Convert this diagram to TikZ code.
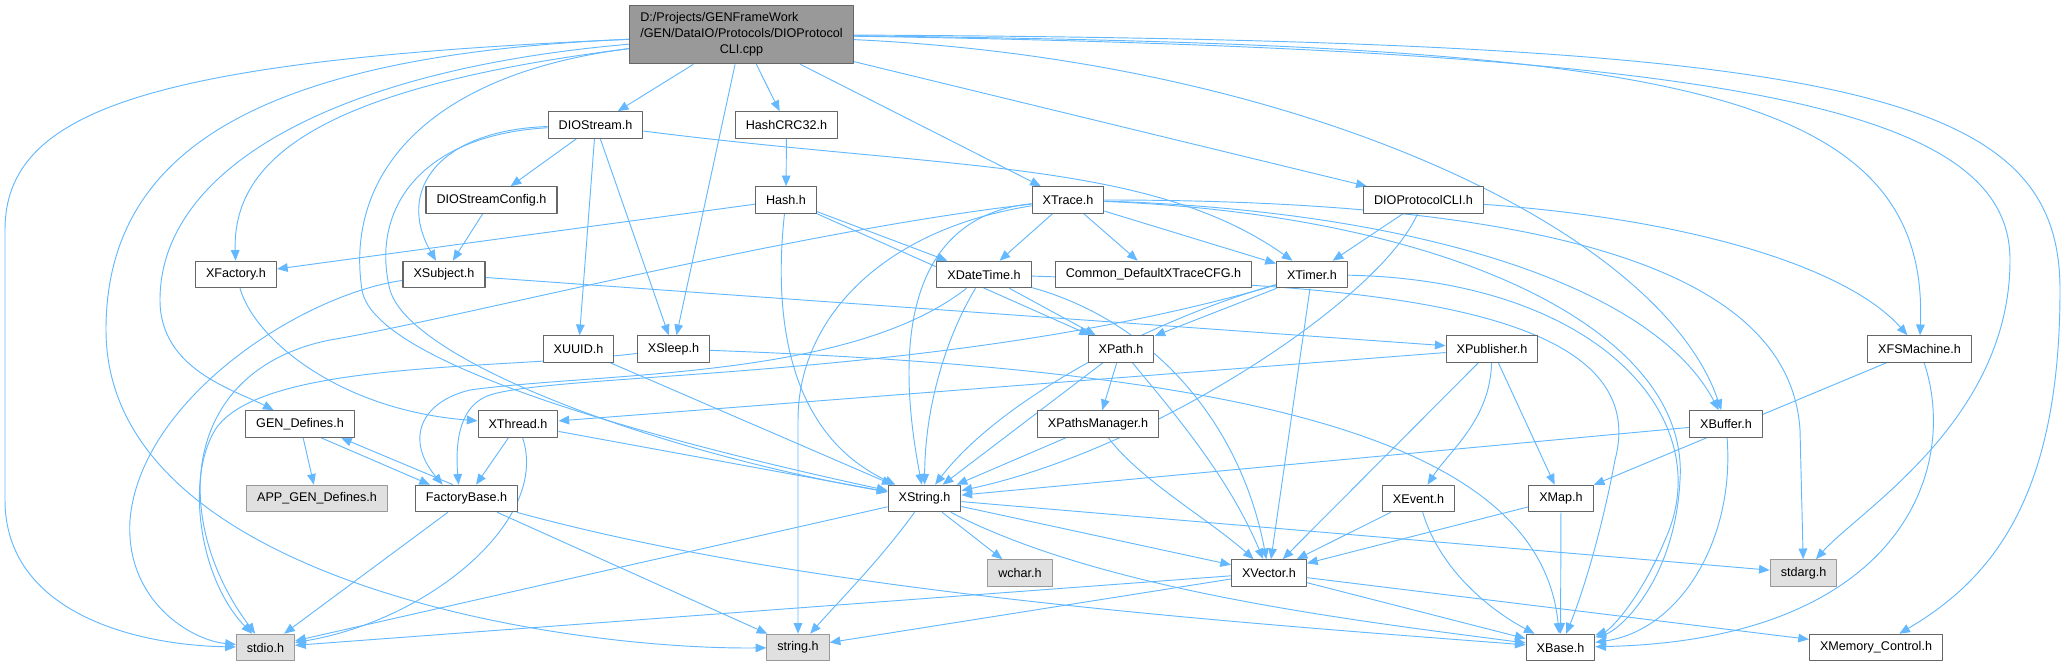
\documentclass[tikz,border=0pt]{standalone}
\usepackage{fontspec}
\setmainfont{Liberation Sans}
\usetikzlibrary{arrows.meta,backgrounds}
\definecolor{edgeblue}{HTML}{63B8FF}
\definecolor{boxline}{HTML}{666666}
\definecolor{sysfill}{HTML}{E0E0E0}
\definecolor{sysline}{HTML}{999999}
\definecolor{rootfill}{HTML}{999999}
\begin{document}
\begin{tikzpicture}[x=0.75pt, y=-0.75pt, font=\fontsize{9.45}{12}\selectfont, line join=round,
  file/.style={draw=boxline, fill=white, line width=0.8pt, minimum height=19.9pt, inner xsep=7.9pt, inner ysep=0pt},
  sysfile/.style={file, draw=sysline, fill=sysfill},
  inc/.style={draw=edgeblue, line width=0.7pt, -{Triangle[length=8pt,width=6.5pt]}}]
\useasboundingbox (0,0) rectangle (2067,667);
\node[file, fill=rootfill, inner ysep=4pt] (root) at (741.5,34.5)
  {\begin{tabular}{@{}l@{}}D:/Projects/GENFrameWork\\/GEN/DataIO/Protocols/DIOProtocol\\\multicolumn{1}{@{}c@{}}{CLI.cpp}\end{tabular}};
\foreach \n/\x/\y/\t in {DIOStream/595.5/125/DIOStream.h, HashCRC32/786.5/125/HashCRC32.h,
  DIOStreamConfig/491.5/200/DIOStreamConfig.h, Hash/786/200/Hash.h, XTrace/1068/200/XTrace.h,
  DIOProtocolCLI/1423.5/200/DIOProtocolCLI.h, XFactory/236/274.5/XFactory.h, XSubject/444/274.5/XSubject.h,
  XDateTime/984/274.5/XDateTime.h, CommonCFG/1153.5/274.5/Common\_DefaultXTraceCFG.h, XTimer/1312/274.5/XTimer.h,
  XUUID/578.5/349/XUUID.h, XSleep/673.5/349/XSleep.h, XPath/1121/349/XPath.h, XPublisher/1492/349/XPublisher.h,
  XFSMachine/1919.5/349/XFSMachine.h, GENDefines/300/424/GEN\_Defines.h, XThread/518/424/XThread.h,
  XPathsManager/1098/424/XPathsManager.h, XBuffer/1726/424/XBuffer.h, FactoryBase/466.5/498.5/FactoryBase.h,
  XString/924.5/498.5/XString.h, XEvent/1418.5/498.5/XEvent.h, XMap/1561/498.5/XMap.h,
  XVector/1269/573/XVector.h, XBase/1560.5/647.5/XBase.h, XMemoryControl/1876/647.5/XMemory\_Control.h}
  \node[file] (\n) at (\x,\y) {\t};
\foreach \n/\x/\y/\t in {APPGENDefines/317/498.5/APP\_GEN\_Defines.h, wchar/1020/573/wchar.h,
  stdarg/1803.5/573/stdarg.h, stdio/265.5/647.5/stdio.h, string/798/647.5/string.h}
  \node[sysfile] (\n) at (\x,\y) {\t};
\begin{scope}[on background layer]
\foreach \a/\b in {root/DIOStream, root/HashCRC32, root/XSleep, root/XTrace, root/DIOProtocolCLI,
  DIOStream/DIOStreamConfig, DIOStream/XUUID, DIOStream/XSleep, HashCRC32/Hash, DIOStreamConfig/XSubject,
  Hash/XFactory, Hash/XDateTime, Hash/XPath, XTrace/XDateTime, XTrace/CommonCFG, XTrace/XTimer,
  DIOProtocolCLI/XTimer, XSubject/XPublisher, XDateTime/XPath, XTimer/XPath, XTimer/XVector,
  XUUID/XString, XPath/XPathsManager, XPath/XString, XPathsManager/XString, XPublisher/XThread,
  XPublisher/XMap, XPublisher/XVector, GENDefines/APPGENDefines, XThread/FactoryBase, XThread/XString,
  FactoryBase/stdio, FactoryBase/string, XString/stdio, XString/wchar, XString/XVector,
  XString/stdarg, XEvent/XVector, XMap/XVector, XMap/XBase, XBuffer/XString,
  XFSMachine/XMap, XVector/stdio, XVector/string, XVector/XBase, XVector/XMemoryControl}
  \draw[inc] (\a) -- (\b);
\draw[inc] (root) .. controls (150,60) and (5,110) .. (5,230) -- (5,500) .. controls (5,610) and (130,645) .. (stdio);
\draw[inc] (root) .. controls (260,55) and (106,150) .. (106,330) .. controls (106,580) and (560,650) .. (string);
\draw[inc] (root) .. controls (330,70) and (160,170) .. (160,300) .. controls (160,370) and (235,390) .. (GENDefines);
\draw[inc] (root) .. controls (340,85) and (232,150) .. (XFactory);
\draw[inc] (root) .. controls (420,75) and (345,180) .. (362,290) .. controls (375,370) and (700,450) .. (XString);
\draw[inc] (root) .. controls (1300,60) and (1660,230) .. (XBuffer);
\draw[inc] (root) .. controls (1650,45) and (1930,80) .. (XFSMachine);
\draw[inc] (root) .. controls (1750,50) and (2010,110) .. (2010,260) .. controls (2010,420) and (1860,510) .. (stdarg);
\draw[inc] (root) .. controls (1850,40) and (2060,90) .. (2060,290) .. controls (2060,500) and (1990,580) .. (XMemoryControl);
\draw[inc] (DIOStream) .. controls (440,130) and (395,190) .. (XSubject);
\draw[inc] (DIOStream) .. controls (420,135) and (370,210) .. (390,290) .. controls (410,360) and (650,450) .. (XString);
\draw[inc] (DIOStream) .. controls (950,170) and (1150,160) .. (XTimer);
\draw[inc] (Hash) .. controls (775,300) and (780,430) .. (XString);
\draw[inc] (XTrace) .. controls (920,215) and (890,320) .. (XString);
\draw[inc] (XTrace) .. controls (880,230) and (798,320) .. (798,420) -- (string);
\draw[inc] (XTrace) .. controls (800,230) and (450,320) .. (330,340) .. controls (180,370) and (170,520) .. (stdio);
\draw[inc] (XTrace) .. controls (1400,210) and (1650,280) .. (XBuffer);
\draw[inc] (XTrace) .. controls (1550,200) and (1790,270) .. (1800,430) -- (stdarg);
\draw[inc] (XTrace) .. controls (1450,215) and (1690,330) .. (1680,480) .. controls (1675,580) and (1620,630) .. (XBase);
\draw[inc] (XDateTime) .. controls (850,380) and (600,372) .. (470,390) .. controls (420,402) and (405,440) .. (FactoryBase.150);
\draw[inc] (XDateTime) .. controls (950,330) and (925,400) .. (XString);
\draw[inc] (XDateTime) .. controls (1150,320) and (1240,420) .. (XVector);
\draw[inc] (XDateTime) .. controls (1300,285) and (1660,290) .. (1615,460) .. controls (1600,540) and (1580,600) .. (XBase);
\draw[inc] (XTimer) .. controls (950,380) and (560,372) .. (490,395) .. controls (460,405) and (455,440) .. (FactoryBase.120);
\draw[inc] (XTimer) .. controls (1150,320) and (1000,400) .. (XString);
\draw[inc] (XTimer) .. controls (1600,280) and (1720,420) .. (1665,540) .. controls (1640,600) and (1610,630) .. (XBase);
\draw[inc] (XSubject) .. controls (300,295) and (140,400) .. (130,520) .. controls (125,600) and (190,640) .. (stdio);
\draw[inc] (XSleep) .. controls (500,370) and (260,360) .. (215,430) .. controls (185,480) and (200,580) .. (stdio);
\draw[inc] (XSleep) .. controls (1250,370) and (1540,440) .. (XBase);
\draw[inc] (XFactory) .. controls (255,340) and (340,410) .. (XThread);
\draw[inc] (XThread) .. controls (550,520) and (430,620) .. (stdio);
\draw[inc] (FactoryBase) .. controls (800,590) and (1200,620) .. (XBase);
\draw[inc] (XString) .. controls (1100,590) and (1350,620) .. (XBase);
\draw[inc] (XPath) .. controls (1180,420) and (1230,480) .. (XVector);
\draw[inc] (XPathsManager) .. controls (1140,480) and (1210,520) .. (XVector);
\draw[inc] (XPublisher) .. controls (1490,420) and (1450,450) .. (XEvent);
\draw[inc] (XEvent) .. controls (1440,570) and (1490,610) .. (XBase);
\draw[inc] (XBuffer) .. controls (1735,540) and (1680,630) .. (XBase);
\draw[inc] (XFSMachine) .. controls (1960,470) and (1900,640) .. (XBase);
\draw[inc] (DIOProtocolCLI) .. controls (1380,300) and (1150,450) .. (XString);
\draw[inc] (DIOProtocolCLI) .. controls (1700,220) and (1850,270) .. (XFSMachine);
\draw[inc] (XString) .. controls (880,560) and (840,600) .. (string);
\draw[inc] ([xshift=15.8pt]GENDefines.south) -- ([xshift=-27.4pt]FactoryBase.north);
\draw[inc] ([xshift=-10.1pt]FactoryBase.north) -- ([xshift=30.8pt]GENDefines.south);
\end{scope}
\end{tikzpicture}
\end{document}
